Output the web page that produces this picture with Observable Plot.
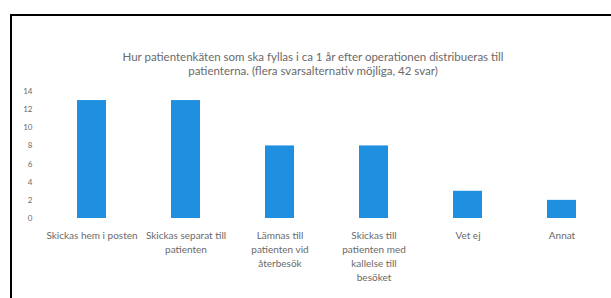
<!DOCTYPE html>
<html>
<head>
<meta charset="utf-8">
<script src="https://cdn.jsdelivr.net/npm/d3@7"></script>
<script src="https://cdn.jsdelivr.net/npm/@observablehq/plot@0.6"></script>
<style>
  html, body { margin: 0; padding: 0; background: #fff; }
  body { width: 611px; height: 298px; position: relative; overflow: hidden; font-family: Lato, "Liberation Sans", sans-serif; }
  #frame { position: absolute; left: 10px; top: 14px; width: 620px; height: 300px; border-left: 2px solid #000; border-top: 2px solid #000; box-sizing: border-box; }
  #title { position: absolute; left: 0; width: 626px; top: 50px; text-align: center; font-size: 11.5px; line-height: 14px; color: #6a6a6a; }
  #chart { position: absolute; left: 0; top: 80px; }
</style>
</head>
<body>
<div id="frame"></div>
<div id="title">Hur patientenkäten som ska fyllas i ca 1 år efter operationen distribueras till<br>patienterna. (flera svarsalternativ möjliga, 42 svar)</div>
<div id="chart"></div>
<script>
const categories = [
  "Skickas hem i posten",
  "Skickas separat till patienten",
  "Lämnas till patienten vid återbesök",
  "Skickas till patienten med kallelse till besöket",
  "Vet ej",
  "Annat"
];
const values = [13, 13, 8, 8, 3, 2];
const tickLabels = [
  "Skickas hem i posten",
  "Skickas separat till\npatienten",
  "Lämnas till\npatienten vid\nåterbesök",
  "Skickas till\npatienten med\nkallelse till\nbesöket",
  "Vet ej",
  "Annat"
];
const yTicks = [0, 2, 4, 6, 8, 10, 12, 14];

const data = categories.map((c, i) => ({category: c, value: values[i]}));
const labelOf = new Map(categories.map((c, i) => [c, tickLabels[i]]));

const chart = Plot.plot({
  width: 611,
  height: 218,
  marginLeft: 44,
  marginRight: 2,
  marginTop: 11,
  marginBottom: 80,
  style: {background: "transparent", fontFamily: "Lato, 'Liberation Sans', sans-serif", color: "#6a6a6a"},
  x: {domain: categories, paddingInner: 0.69, paddingOuter: 0.345, label: null},
  y: {domain: [0, 14], label: null},
  marks: [
    Plot.barY(data, {x: "category", y: "value", fill: "#1f8fe0"}),
    Plot.axisY({ticks: yTicks, tickSize: 0, tickPadding: 12, fontSize: 8, label: null, fill: "#6a6a6a"}),
    Plot.axisX({tickSize: 0, tickPadding: 11, fontSize: 10, lineHeight: 1.4, label: null, fill: "#6a6a6a",
      tickFormat: d => labelOf.get(d)})
  ]
});
document.getElementById("chart").appendChild(chart);
</script>
</body>
</html>
